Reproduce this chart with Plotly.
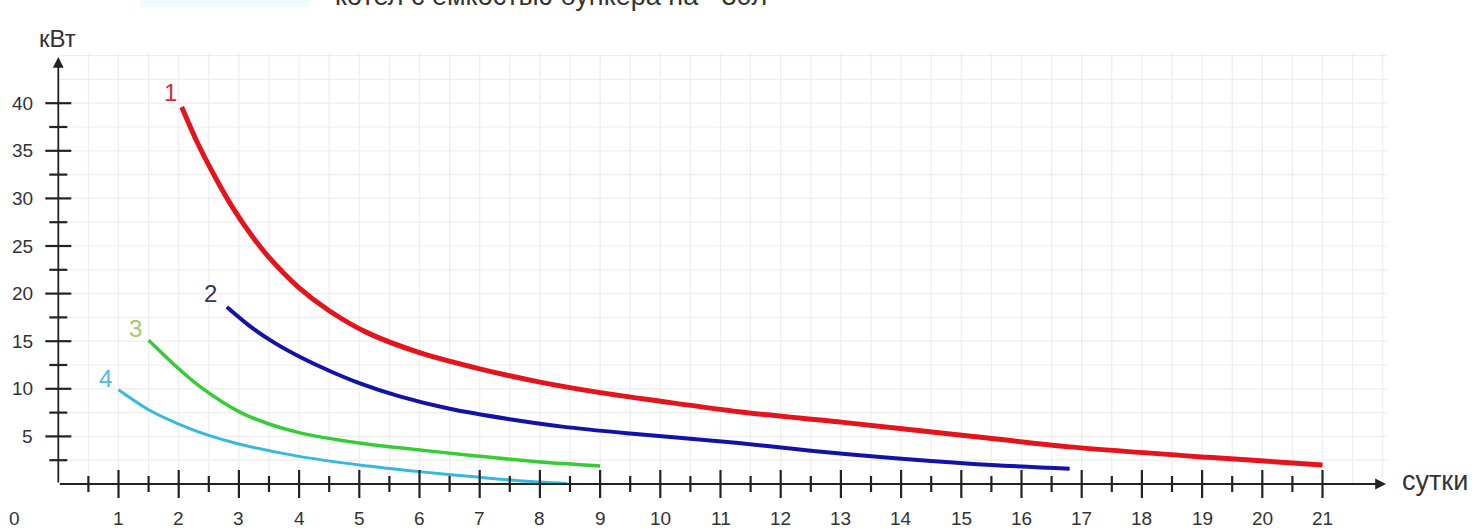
import plotly.graph_objects as go

# ---- data ----
days_1 = [2.05, 2.3, 2.6, 2.9, 3.2, 3.5, 4.0, 4.5, 5.13, 6.0, 7.0, 8.0, 9.0, 10.0, 11.3, 13.0, 15.2, 16.8, 19.1, 21.0]
kw_1 = [39.6, 36.0, 32.3, 29.0, 26.2, 23.8, 20.6, 18.2, 15.9, 13.8, 12.1, 10.7, 9.6, 8.7, 7.6, 6.5, 5.0, 3.9, 2.8, 2.0]

days_2 = [2.8, 3.2, 3.6, 4.0, 4.5, 5.0, 5.67, 6.5, 7.5, 8.4, 9.5, 11.3, 12.5, 13.7, 15.2, 16.8]
kw_2 = [18.6, 16.5, 14.8, 13.4, 11.9, 10.6, 9.2, 7.9, 6.8, 6.0, 5.3, 4.3, 3.5, 2.8, 2.1, 1.6]

days_3 = [1.5, 2.0, 2.36, 3.0, 3.5, 4.0, 5.0, 5.67, 6.87, 8.0, 9.0]
kw_3 = [15.1, 12.1, 10.2, 7.6, 6.3, 5.4, 4.3, 3.8, 3.0, 2.3, 1.9]

days_4 = [1.0, 1.5, 2.0, 2.5, 3.0, 4.0, 5.0, 6.0, 7.0, 7.65, 8.45]
kw_4 = [9.9, 7.8, 6.3, 5.1, 4.2, 2.9, 2.0, 1.3, 0.7, 0.35, 0.05]

series_names = ["1", "2", "3", "4"]
x_tick_labels = [str(i) for i in range(0, 22)]
y_tick_values = [5, 10, 15, 20, 25, 30, 35, 40]
y_axis_title = "кВт"
x_axis_title = "сутки"
top_caption = "котел с емкостью бункера на ~30л"

# ---- layout geometry (pixels -> data) ----
W, H = 1478, 528
X0, SX = 58.3, 60.2     # px of day 0, px per day
Y0, SY = 484.0, 9.52    # px of 0 kW, px per kW


def dx(px):
    return (px - X0) / SX


def dy(py):
    return (Y0 - py) / SY


FONT = "Liberation Sans, Arial, sans-serif"
AX = "#222222"
TXT = "#333333"

fig = go.Figure()

line_colors = ["#e3141c", "#1212a8", "#35cc35", "#35b9dc"]
line_widths = [5.0, 4.0, 3.5, 3.0]
for xs, ys, c, w, n in zip([days_1, days_2, days_3, days_4],
                           [kw_1, kw_2, kw_3, kw_4],
                           line_colors, line_widths, series_names):
    fig.add_trace(go.Scatter(x=xs, y=ys, mode="lines", name=n,
                             line=dict(color=c, width=w, shape="spline", smoothing=0.8),
                             hoverinfo="skip", showlegend=False))

shapes = []
# grid
grid_top = dy(53)
grid_right = dx(1387)
GRID = "#ededed"
g = 0.5
while g <= grid_right + 1e-9:
    shapes.append(dict(type="line", x0=g, x1=g, y0=0, y1=grid_top, layer="below",
                       line=dict(color=GRID, width=1.2)))
    g += 0.5
h = 2.5
while h <= grid_top + 1e-9:
    shapes.append(dict(type="line", x0=0, x1=grid_right, y0=h, y1=h, layer="below",
                       line=dict(color=GRID, width=1.2)))
    h += 2.5

# y ticks
for i in range(1, 17):
    v = i * 2.5
    half = (13 if i % 2 == 0 else 9) / SX
    shapes.append(dict(type="line", x0=-half, x1=half, y0=v, y1=v,
                       line=dict(color=AX, width=2.2)))
# x ticks
for i in range(1, 43):
    v = i * 0.5
    half = (14 if i % 2 == 0 else 8) / SY
    shapes.append(dict(type="line", x0=v, x1=v, y0=-half, y1=half,
                       line=dict(color=AX, width=2.2)))

# faint legend swatch at top
shapes.append(dict(type="line", x0=dx(140), x1=dx(310), y0=dy(2), y1=dy(2),
                   line=dict(color="rgba(150,228,245,0.16)", width=10)))

annotations = []
# axes with arrowheads
annotations.append(dict(x=0, y=dy(57), ax=0, ay=0, xref="x", yref="y", axref="x", ayref="y",
                        showarrow=True, arrowhead=2, arrowsize=1.2, arrowwidth=1.8,
                        arrowcolor=AX, text=""))
annotations.append(dict(x=dx(1386), y=0, ax=0, ay=0, xref="x", yref="y", axref="x", ayref="y",
                        showarrow=True, arrowhead=2, arrowsize=1.2, arrowwidth=1.8,
                        arrowcolor=AX, text=""))

# y tick labels
for v in y_tick_values:
    annotations.append(dict(x=dx(35), y=v, xref="x", yref="y", text=str(v), showarrow=False,
                            xanchor="right", yanchor="middle",
                            font=dict(family=FONT, size=19, color=TXT)))
# x tick labels
for i, lab in enumerate(x_tick_labels):
    xp = i if i > 0 else dx(14)
    annotations.append(dict(x=xp, y=dy(518), xref="x", yref="y", text=lab, showarrow=False,
                            xanchor="center", yanchor="middle",
                            font=dict(family=FONT, size=19, color=TXT)))

annotations.append(dict(x=dx(37), y=dy(38), xref="x", yref="y", text=y_axis_title,
                        showarrow=False, xanchor="left", yanchor="middle",
                        font=dict(family=FONT, size=24, color=TXT)))
annotations.append(dict(x=dx(1400), y=dy(481), xref="x", yref="y", text=x_axis_title,
                        showarrow=False, xanchor="left", yanchor="middle",
                        font=dict(family=FONT, size=27, color=TXT)))
annotations.append(dict(x=dx(333), y=dy(13), xref="x", yref="y", text=top_caption,
                        showarrow=False, xanchor="left", yanchor="bottom",
                        font=dict(family=FONT, size=27, color=TXT)))

# curve number labels
label_pos = [(170, 92), (210, 293), (135, 328), (105, 378)]
label_colors = ["#c8303c", "#34345c", "#a9c864", "#52b6e0"]
for n, (px, py), c in zip(series_names, label_pos, label_colors):
    annotations.append(dict(x=dx(px), y=dy(py), xref="x", yref="y", text=n, showarrow=False,
                            xanchor="center", yanchor="middle",
                            font=dict(family=FONT, size=24, color=c)))

fig.update_layout(
    width=W, height=H,
    margin=dict(l=0, r=0, t=0, b=0),
    paper_bgcolor="white", plot_bgcolor="white",
    xaxis=dict(range=[dx(0), dx(W)], visible=False, fixedrange=True),
    yaxis=dict(range=[dy(H), dy(0)], visible=False, fixedrange=True),
    shapes=shapes, annotations=annotations,
    showlegend=False,
)

fig.write_html("out.html", config={"displayModeBar": False},
               post_script="document.body.style.margin='0';document.body.style.overflow='hidden';")
